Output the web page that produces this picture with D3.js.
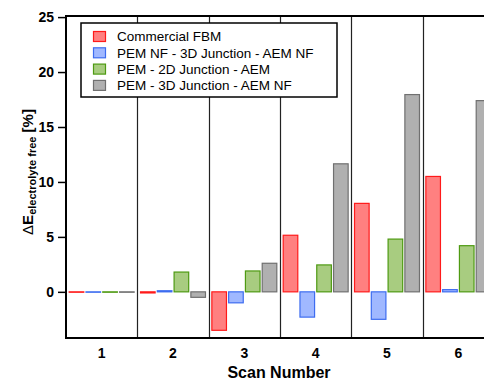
<!DOCTYPE html>
<html>
<head>
<meta charset="utf-8">
<script src="https://cdn.jsdelivr.net/npm/d3@7"></script>
<style>
	html, body { margin: 0; padding: 0; background: #fff; }
	svg { display: block; font-family: "Liberation Sans", Arial, sans-serif; }
</style>
</head>
<body>
<div id="chart"></div>
<script>
const scans = ["1", "2", "3", "4", "5", "6"];
const seriesNames = [
	"Commercial FBM",
	"PEM NF - 3D Junction - AEM NF",
	"PEM - 2D Junction - AEM",
	"PEM - 3D Junction - AEM NF",
];
const commercialFBM = [0, -0.1, -3.5, 5.15, 8.05, 10.5];
const pemNf3dAemNf = [0, 0.1, -1.0, -2.3, -2.5, 0.2];
const pem2dAem = [0, 1.8, 1.9, 2.45, 4.8, 4.2];
const pem3dAemNf = [0, -0.5, 2.6, 11.65, 17.95, 17.4];
const yTicks = [0, 5, 10, 15, 20, 25];

const fills = ["#ff8080", "#a0b8ff", "#a8cc80", "#b0b0b0"];
const strokes = ["#ff1a1a", "#3d6cf0", "#4e9a12", "#707070"];

const seriesValues = [commercialFBM, pemNf3dAemNf, pem2dAem, pem3dAemNf];

const width = 484;
const height = 378;
const margin = { top: 16, left: 66, bottom: 40 };
const plotRight = 494; // the frame runs past the right edge of the picture

const svg = d3
	.select("#chart")
	.append("svg")
	.attr("width", width)
	.attr("height", height);

const x = d3.scaleBand().domain(scans).range([margin.left, plotRight]);
const xInner = d3
	.scaleBand()
	.domain(d3.range(seriesNames.length))
	.range([0, x.bandwidth()])
	.paddingInner(0.13)
	.paddingOuter(0.19);
const y = d3
	.scaleLinear()
	.domain([-4.2, 25.1])
	.range([height - margin.bottom, margin.top]);

// Separators between scans
svg
	.append("g")
	.selectAll("line")
	.data(scans.slice(1))
	.join("line")
	.attr("x1", (d) => Math.round(x(d)) + 0.5)
	.attr("x2", (d) => Math.round(x(d)) + 0.5)
	.attr("y1", margin.top)
	.attr("y2", y.range()[0])
	.attr("stroke", "#222")
	.attr("stroke-width", 1.2);

// Bars
const barData = [];
scans.forEach((s, i) => {
	seriesValues.forEach((vals, k) => {
		barData.push({ scan: s, k, v: vals[i] });
	});
});

svg
	.append("g")
	.selectAll("rect")
	.data(barData)
	.join("rect")
	.attr("x", (d) => x(d.scan) + xInner(d.k))
	.attr("width", xInner.bandwidth())
	.attr("y", (d) => Math.min(y(d.v), y(0)))
	.attr("height", (d) => Math.max(Math.abs(y(d.v) - y(0)), 0.4))
	.attr("fill", (d) => fills[d.k])
	.attr("stroke", (d) => strokes[d.k])
	.attr("stroke-width", 1.2);

// Y axis
const yAxis = svg
	.append("g")
	.attr("transform", `translate(${margin.left},0)`)
	.call(d3.axisLeft(y).tickValues(yTicks).tickSize(8).tickPadding(4));
yAxis.select(".domain").remove();
yAxis.selectAll(".tick line").attr("stroke", "#000").attr("stroke-width", 1.5);
yAxis
	.selectAll(".tick text")
	.attr("font-size", 14)
	.attr("font-weight", "bold")
	.attr("font-family", "'Liberation Sans', Arial, sans-serif")
	.attr("fill", "#000");

// Frame
svg
	.append("path")
	.attr(
		"d",
		`M${width + 2},${margin.top}H${margin.left}V${y.range()[0]}H${width + 2}`
	)
	.attr("fill", "none")
	.attr("stroke", "#000")
	.attr("stroke-width", 2);

// X tick labels
svg
	.append("g")
	.selectAll("text")
	.data(scans)
	.join("text")
	.attr("x", (d) => x(d) + x.bandwidth() / 2)
	.attr("y", 358)
	.attr("text-anchor", "middle")
	.attr("font-size", 14)
	.attr("font-weight", "bold")
	.text((d) => d);

svg
	.append("text")
	.attr("x", 279)
	.attr("y", 377.5)
	.attr("text-anchor", "middle")
	.attr("font-size", 16)
	.attr("font-weight", "bold")
	.text("Scan Number");

// Y title
const yTitle = svg
	.append("text")
	.attr("transform", "translate(33,172) rotate(-90)")
	.attr("text-anchor", "middle")
	.attr("font-size", 15);
yTitle.append("tspan").text("\u0394");
yTitle.append("tspan").attr("font-weight", "bold").text("E");
yTitle
	.append("tspan")
	.attr("font-weight", "bold")
	.attr("font-size", 11)
	.attr("dy", 3)
	.text("electrolyte free");
yTitle
	.append("tspan")
	.attr("font-weight", "bold")
	.attr("dy", -3)
	.text(" [%]");

// Legend
const legend = svg.append("g");
legend
	.append("rect")
	.attr("x", 81)
	.attr("y", 23)
	.attr("width", 256)
	.attr("height", 74)
	.attr("fill", "#fff")
	.attr("stroke", "#000")
	.attr("stroke-width", 1.5);

const rows = legend
	.selectAll("g.row")
	.data(seriesNames)
	.join("g")
	.attr("class", "row")
	.attr("transform", (d, i) => `translate(0,${36.5 + i * 16.3})`);

rows
	.append("rect")
	.attr("x", 93.5)
	.attr("y", -5)
	.attr("width", 12)
	.attr("height", 10)
	.attr("fill", (d, i) => fills[i])
	.attr("stroke", (d, i) => strokes[i])
	.attr("stroke-width", 1.2);

rows
	.append("text")
	.attr("x", 117)
	.attr("y", 0)
	.attr("dy", "0.35em")
	.attr("font-size", 13.5)
	.text((d) => d);
</script>
</body>
</html>
